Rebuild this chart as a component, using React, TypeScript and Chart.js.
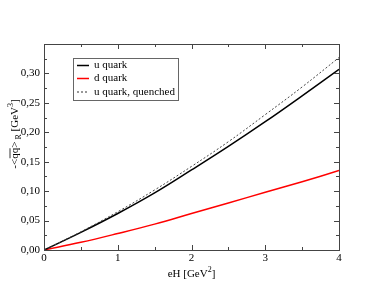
import React, { useEffect, useRef } from "react";
import { Chart, registerables } from "chart.js";

Chart.register(...registerables);

const eH = [0, 0.5, 1, 1.5, 2, 2.5, 3, 3.5, 4];
const uQuark = [0, 0.030, 0.062, 0.097, 0.136, 0.176, 0.218, 0.262, 0.307];
const dQuark = [0, 0.013, 0.028, 0.044, 0.062, 0.080, 0.098, 0.116, 0.135];
const uQuenched = [0, 0.031, 0.065, 0.102, 0.142, 0.184, 0.230, 0.277, 0.327];
const seriesLabels = ["u quark", "d quark", "u quark, quenched"];
const xTicks = [0, 1, 2, 3, 4];
const yTicks = [0, 0.05, 0.1, 0.15, 0.2, 0.25, 0.3];

const FONT = "'Liberation Serif', 'Times New Roman', serif";

const decorPlugin = {
  id: "decor",
  afterDatasetsDraw(chart: any) {
    const { ctx, chartArea: a, scales } = chart;
    const xs = scales.x;
    const ys = scales.y;
    ctx.save();
    // frame
    ctx.strokeStyle = "#444";
    ctx.lineWidth = 1;
    ctx.strokeRect(Math.round(a.left) + 0.5, Math.round(a.top) + 0.5, Math.round(a.right - a.left), Math.round(a.bottom - a.top));
    // ticks
    ctx.beginPath();
    for (let v = 0; v <= 4.0001; v += 0.5) {
      const major = Math.abs(v - Math.round(v)) < 1e-6;
      const len = major ? 5 : 3;
      const px = Math.round(xs.getPixelForValue(v)) + 0.5;
      ctx.moveTo(px, a.bottom);
      ctx.lineTo(px, a.bottom - len);
      ctx.moveTo(px, a.top);
      ctx.lineTo(px, a.top + len);
    }
    for (let i = 0; i <= 14; i++) {
      const v = i * 0.025;
      const major = i % 2 === 0;
      const len = major ? 5 : 3;
      const py = Math.round(ys.getPixelForValue(v)) + 0.5;
      ctx.moveTo(a.left, py);
      ctx.lineTo(a.left + len, py);
      ctx.moveTo(a.right, py);
      ctx.lineTo(a.right - len, py);
    }
    ctx.stroke();

    // legend
    const lx = 73.5, ly = 58.5, lw = 105, lh = 42;
    ctx.strokeStyle = "#666";
    ctx.strokeRect(lx, ly, lw, lh);
    const rows = [65.5, 78.5, 92];
    const styles = [
      { color: "#000", dash: [] as number[], w: 1.5 },
      { color: "#ff0000", dash: [] as number[], w: 1.5 },
      { color: "#333", dash: [2, 2], w: 1 },
    ];
    ctx.font = `11px ${FONT}`;
    ctx.textBaseline = "middle";
    ctx.textAlign = "left";
    rows.forEach((ry, i) => {
      ctx.beginPath();
      ctx.strokeStyle = styles[i].color;
      ctx.lineWidth = styles[i].w;
      ctx.setLineDash(styles[i].dash);
      ctx.moveTo(77, ry);
      ctx.lineTo(89, ry);
      ctx.stroke();
      ctx.setLineDash([]);
      ctx.fillStyle = "#000";
      ctx.fillText(seriesLabels[i], 94, ry);
    });

    // x title
    ctx.fillStyle = "#000";
    const xt1 = "eH [GeV";
    const xt2 = "2";
    const xt3 = "]";
    ctx.font = `11px ${FONT}`;
    const w1 = ctx.measureText(xt1).width;
    const w3 = ctx.measureText(xt3).width;
    ctx.font = `8px ${FONT}`;
    const w2 = ctx.measureText(xt2).width;
    const cx = (a.left + a.right) / 2;
    let sx = cx - (w1 + w2 + w3) / 2;
    const ty = 273;
    ctx.textBaseline = "alphabetic";
    ctx.font = `11px ${FONT}`;
    ctx.fillText(xt1, sx, ty + 4);
    sx += w1;
    ctx.font = `8px ${FONT}`;
    ctx.fillText(xt2, sx, ty - 1);
    sx += w2;
    ctx.font = `11px ${FONT}`;
    ctx.fillText(xt3, sx, ty + 4);

    // y title (rotated)
    ctx.save();
    ctx.translate(14, 134);
    ctx.rotate(-Math.PI / 2);
    const parts = [
      { t: "-<", f: 11, dy: 0, over: false },
      { t: "qq", f: 11, dy: 0, over: true },
      { t: ">", f: 11, dy: 0, over: false },
      { t: " R", f: 8, dy: 3, over: false },
      { t: " [GeV", f: 11, dy: 0, over: false },
      { t: "3", f: 8, dy: -5, over: false },
      { t: "]", f: 11, dy: 0, over: false },
    ];
    let total = 0;
    const widths = parts.map((p) => {
      ctx.font = `${p.f}px ${FONT}`;
      const w = ctx.measureText(p.t).width;
      total += w;
      return w;
    });
    let px = -total / 2;
    const base = 4;
    parts.forEach((p, i) => {
      ctx.font = `${p.f}px ${FONT}`;
      ctx.fillText(p.t, px, base + p.dy);
      if (p.over) {
        ctx.beginPath();
        ctx.strokeStyle = "#000";
        ctx.lineWidth = 0.8;
        ctx.moveTo(px + 0.5, base - 8);
        ctx.lineTo(px + widths[i] - 0.5, base - 8);
        ctx.stroke();
      }
      px += widths[i];
    });
    ctx.restore();
    ctx.restore();
  },
};

export default function App() {
  const ref = useRef<HTMLCanvasElement | null>(null);
  useEffect(() => {
    document.body.style.margin = "0";
    const canvas = ref.current;
    if (!canvas) return;
    Chart.defaults.font.family = FONT;
    const chart = new Chart(canvas, {
      type: "line",
      data: {
        datasets: [
          {
            label: seriesLabels[2],
            data: eH.map((x, i) => ({ x, y: uQuenched[i] })),
            borderColor: "#444",
            borderWidth: 1,
            borderDash: [2, 2],
            pointRadius: 0,
            tension: 0.4,
            fill: false,
          },
          {
            label: seriesLabels[0],
            data: eH.map((x, i) => ({ x, y: uQuark[i] })),
            borderColor: "#000",
            borderWidth: 1.5,
            pointRadius: 0,
            tension: 0.4,
            fill: false,
          },
          {
            label: seriesLabels[1],
            data: eH.map((x, i) => ({ x, y: dQuark[i] })),
            borderColor: "#ff0000",
            borderWidth: 1.5,
            pointRadius: 0,
            tension: 0.4,
            fill: false,
          },
        ],
      },
      options: {
        animation: false,
        responsive: false,
        maintainAspectRatio: false,
        layout: { padding: { left: 0, top: 44, right: 43, bottom: 0 } },
        plugins: { legend: { display: false }, tooltip: { enabled: false } },
        scales: {
          x: {
            type: "linear",
            min: 0,
            max: 4,
            grid: { display: false, drawTicks: false },
            border: { display: false },
            afterFit: (s: any) => {
              s.height = 45;
            },
            afterBuildTicks: (s: any) => {
              s.ticks = xTicks.map((v) => ({ value: v }));
            },
            ticks: {
              padding: 2,
              color: "#000",
              font: { size: 11, family: FONT },
              callback: (v: any) => String(v),
            },
          },
          y: {
            type: "linear",
            min: 0,
            max: 0.35,
            grid: { display: false, drawTicks: false },
            border: { display: false },
            afterFit: (s: any) => {
              s.width = 44;
            },
            afterBuildTicks: (s: any) => {
              s.ticks = yTicks.map((v) => ({ value: v }));
            },
            ticks: {
              padding: 4,
              color: "#000",
              font: { size: 11, family: FONT },
              callback: (v: any) => Number(v).toFixed(2).replace(".", ","),
            },
          },
        },
      },
      plugins: [decorPlugin],
    });
    return () => chart.destroy();
  }, []);
  return <canvas ref={ref} width={382} height={295} style={{ display: "block" }} />;
}
